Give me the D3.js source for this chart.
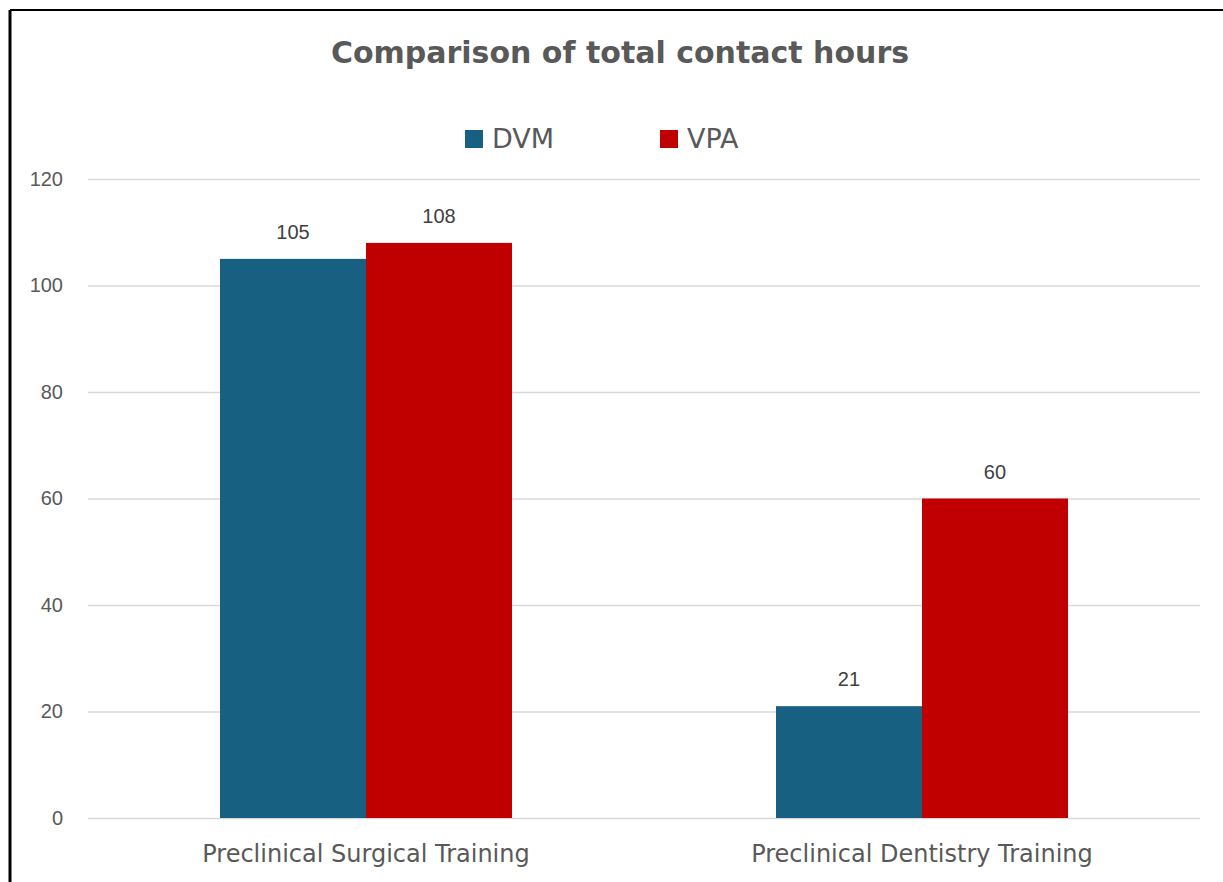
<!DOCTYPE html>
<html>
<head>
<meta charset="utf-8">
<script src="https://cdn.jsdelivr.net/npm/d3@7"></script>
<style>
  body { margin: 0; background: #fff; }
  svg { display: block; font-family: "DejaVu Sans", sans-serif; }
</style>
</head>
<body>
<svg id="chart" width="1223" height="882"></svg>
<script>
let categories = ["Preclinical Surgical Training", "Preclinical Dentistry Training"];
let seriesNames = ["DVM", "VPA"];
let dvmValues = [105, 21];
let vpaValues = [108, 60];
let yTicks = [0, 20, 40, 60, 80, 100, 120];
let colors = ["#176082", "#c00000"];

let w = 1223;
let h = 882;
let svg = d3.select("#chart");

// frame (only top and left edges show in the picture)
svg.append("line").attr("x1", 10).attr("x2", w).attr("y1", 10).attr("y2", 10)
   .attr("stroke", "#000").attr("stroke-width", 2);
svg.append("line").attr("x1", 10).attr("x2", 10).attr("y1", 10).attr("y2", h)
   .attr("stroke", "#000").attr("stroke-width", 3);

let x = d3.scaleBand()
          .domain(categories)
          .range([88, 1200])
          .paddingInner(0.4748)
          .paddingOuter(0.2374);

let xs = d3.scaleBand()
           .domain(seriesNames)
           .range([0, x.bandwidth()]);

let y = d3.scaleLinear()
          .domain([0, 120])
          .range([818, 179]);

// gridlines
let yAxis = d3.axisLeft(y)
              .tickValues(yTicks)
              .tickSize(-(1200 - 88))
              .tickPadding(25);

let gy = svg.append("g")
            .attr("transform", "translate(88,0)")
            .call(yAxis);
gy.select(".domain").remove();
gy.selectAll(".tick line").attr("stroke", "#d9d9d9").attr("stroke-width", 1.5);
gy.selectAll(".tick text")
  .attr("fill", "#595959")
  .style("font-family", "'Liberation Sans', Arial, sans-serif")
  .style("font-size", "20px");

let rows = categories.map((c, i) => ({cat: c, values: [dvmValues[i], vpaValues[i]]}));

let groups = svg.selectAll(".grp")
                .data(rows)
                .enter()
                .append("g")
                .attr("class", "grp")
                .attr("transform", d => "translate(" + x(d.cat) + ",0)");

groups.selectAll("rect")
      .data(d => d.values.map((v, j) => ({name: seriesNames[j], v: v, j: j})))
      .enter()
      .append("rect")
      .attr("x", d => xs(d.name))
      .attr("width", xs.bandwidth())
      .attr("y", d => y(d.v))
      .attr("height", d => y(0) - y(d.v))
      .attr("fill", d => colors[d.j]);

groups.selectAll(".lbl")
      .data(d => d.values.map((v, j) => ({name: seriesNames[j], v: v})))
      .enter()
      .append("text")
      .attr("class", "lbl")
      .attr("x", d => xs(d.name) + xs.bandwidth() / 2)
      .attr("y", d => y(d.v) - 20)
      .attr("text-anchor", "middle")
      .attr("fill", "#404040")
      .style("font-family", "'Liberation Sans', Arial, sans-serif")
      .style("font-size", "20px")
      .text(d => d.v);

// category labels
svg.selectAll(".cat")
   .data(categories)
   .enter()
   .append("text")
   .attr("class", "cat")
   .attr("x", d => x(d) + x.bandwidth() / 2)
   .attr("y", 862)
   .attr("text-anchor", "middle")
   .attr("fill", "#595959")
   .style("font-size", "24px")
   .text(d => d);

// title
svg.append("text")
   .attr("x", 620)
   .attr("y", 63)
   .attr("text-anchor", "middle")
   .attr("fill", "#595959")
   .style("font-size", "30px")
   .style("font-weight", "bold")
   .text("Comparison of total contact hours");

// legend
let legendX = [465, 660];
let lg = svg.selectAll(".leg")
            .data(seriesNames)
            .enter()
            .append("g")
            .attr("class", "leg")
            .attr("transform", (d, i) => "translate(" + legendX[i] + ",130)");
lg.append("rect").attr("width", 18).attr("height", 18).attr("fill", (d, i) => colors[i]);
lg.append("text")
  .attr("x", 27)
  .attr("y", 18)
  .attr("fill", "#595959")
  .style("font-size", "27px")
  .text(d => d);
</script>
</body>
</html>
